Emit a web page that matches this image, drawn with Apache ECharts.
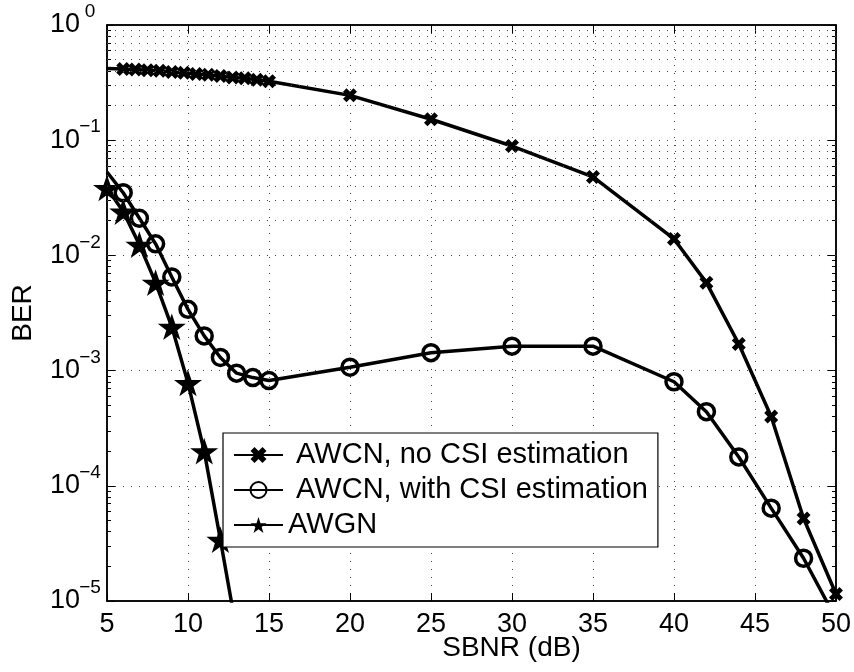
<!DOCTYPE html>
<html>
<head>
<meta charset="utf-8">
<title>BER vs SBNR</title>
<script src="https://cdn.jsdelivr.net/npm/echarts@6/dist/echarts.min.js"></script>
<style>
  html, body { margin: 0; padding: 0; background: #fff; }
  #box { width: 854px; height: 672px; }
</style>
</head>
<body>
<div id="box"></div>
<script>
  // data
  var seriesNames = [' AWCN, no CSI estimation', ' AWCN, with CSI estimation', 'AWGN'];

  var noCsiSnr = [5, 6, 6.75, 7.5, 8.25, 9, 9.75, 10.5, 11.25, 12, 12.75, 13.5, 14.25, 15, 20, 25, 30, 35, 40, 42, 44, 46, 48, 50];
  var noCsiBer = [0.42, 0.415, 0.41, 0.405, 0.40, 0.39, 0.385, 0.375, 0.37, 0.36, 0.35, 0.345, 0.335, 0.325, 0.245, 0.152, 0.089, 0.048, 0.0139, 0.0058, 0.0017, 0.0004, 5.2e-5, 1.15e-5];

  var csiSnr = [5, 6, 7, 8, 9, 10, 11, 12, 13, 14, 15, 20, 25, 30, 35, 40, 42, 44, 46, 48, 50];
  var csiBer = [0.053, 0.035, 0.021, 0.0126, 0.0065, 0.0034, 0.002, 0.0013, 0.00095, 0.00087, 0.00082, 0.00107, 0.00143, 0.00163, 0.00163, 0.0008, 0.00044, 0.000178, 6.4e-5, 2.35e-5, 7e-6];

  var awgnSnr = [5, 6, 7, 8, 9, 10, 11, 12, 13];
  var awgnBer = [0.0385, 0.024, 0.0124, 0.0058, 0.0024, 0.00078, 0.0002, 3.4e-5, 5.5e-6];

  var xTicks = [5, 10, 15, 20, 25, 30, 35, 40, 45, 50];
  var yDecades = [-5, -4, -3, -2, -1, 0];

  var font = 'Liberation Sans, Arial, Helvetica, sans-serif';
  var xPath = 'path://M0,2.5 L2.5,0 L5,2.5 L7.5,0 L10,2.5 L7.5,5 L10,7.5 L7.5,10 L5,7.5 L2.5,10 L0,7.5 L2.5,5 Z';
  var starPath = 'path://M50,0 L61.8,35.1 L97.6,35.1 L68.8,56.7 L79.4,90.5 L50,69.1 L20.6,90.5 L31.2,56.7 L2.4,35.1 L38.2,35.1 Z';

  function pairs(xs, ys, hideFirst) {
    return xs.map(function (x, i) {
      var item = { value: [x, ys[i]] };
      // the curve starts at the axis without a marker
      if (hideFirst && i === 0) item.symbol = 'none';
      return item;
    });
  }

  // dotted minor grid lines 2..9 x 10^k
  var minorLines = [];
  for (var k = 0; k < yDecades.length - 1; k++) {
    for (var m = 2; m <= 9; m++) {
      minorLines.push({ yAxis: m * Math.pow(10, yDecades[k]) });
    }
  }

  var dotted = { type: [1, 7], color: '#444', width: 1 };

  var myChart = echarts.init(document.getElementById('box'));

  var option = {
    animation: false,
    backgroundColor: '#fff',
    grid: {
      left: 107, right: 18, top: 25, bottom: 71,
      show: true, borderColor: '#000', borderWidth: 1.5, backgroundColor: 'transparent'
    },
    legend: {
      data: seriesNames,
      orient: 'vertical',
      left: 223, top: 433,
      itemWidth: 49, itemHeight: 20, itemGap: 5,
      padding: [7, 10, 7, 10],
      borderColor: '#000', borderWidth: 1.2,
      backgroundColor: '#fff',
      textStyle: { fontSize: 29, fontFamily: font, color: '#000', lineHeight: 30 }
    },
    xAxis: [{
      type: 'value',
      min: 5, max: 50, interval: 5,
      name: 'SBNR (dB)',
      nameLocation: 'middle',
      nameGap: 33,
      nameMoveOverlap: false,
      nameTextStyle: { fontSize: 28, fontFamily: font, color: '#000', padding: [0, 0, 0, 80] },
      axisLine: { show: true, lineStyle: { color: '#000', width: 1.5 } },
      axisTick: { show: true, inside: true, length: 8, lineStyle: { color: '#000', width: 1 } },
      axisLabel: {
        margin: 10, fontSize: 27, fontFamily: font, color: '#000',
        formatter: function (v) { return xTicks.indexOf(v) >= 0 ? String(v) : ''; }
      },
      splitLine: { show: true, lineStyle: dotted }
    }, {
      type: 'value',
      position: 'top',
      min: 5, max: 50, interval: 5,
      axisLine: { show: true, lineStyle: { color: '#000', width: 1.5 } },
      axisTick: { show: true, inside: true, length: 8, lineStyle: { color: '#000', width: 1 } },
      axisLabel: { show: false },
      splitLine: { show: false }
    }],
    yAxis: [{
      type: 'log',
      logBase: 10,
      min: 1e-5, max: 1,
      splitNumber: 5,
      name: 'BER',
      nameLocation: 'middle',
      nameRotate: 90,
      nameGap: 70,
      nameTextStyle: { fontSize: 28, fontFamily: font, color: '#000' },
      axisLine: { show: true, lineStyle: { color: '#000', width: 1.5 } },
      axisTick: { show: true, inside: true, length: 8, lineStyle: { color: '#000', width: 1 } },
      minorTick: { show: true, splitNumber: 9, length: 4, lineStyle: { color: '#000', width: 1 } },
      axisLabel: {
        margin: 7,
        fontFamily: font,
        color: '#000',
        formatter: function (v) {
          var e = Math.round(Math.log10(v));
          return '{b|10}{s|' + (e < 0 ? '\u2212' + (-e) : e) + '}';
        },
        rich: {
          b: { fontSize: 27, fontFamily: font, color: '#000' },
          s: { fontSize: 19, fontFamily: font, color: '#000', width: 20, align: 'left', padding: [0, 0, 26, 0] }
        }
      },
      splitLine: { show: true, lineStyle: dotted }
    }, {
      type: 'log',
      logBase: 10,
      position: 'right',
      min: 1e-5, max: 1,
      splitNumber: 5,
      axisLine: { show: true, lineStyle: { color: '#000', width: 1.5 } },
      axisTick: { show: true, inside: true, length: 8, lineStyle: { color: '#000', width: 1 } },
      minorTick: { show: true, splitNumber: 9, length: 4, lineStyle: { color: '#000', width: 1 } },
      axisLabel: { show: false },
      splitLine: { show: false }
    }],
    series: [{
      name: 'minor grid',
      type: 'line',
      z: 1,
      data: [],
      markLine: {
        silent: true,
        symbol: ['none', 'none'],
        label: { show: false },
        lineStyle: dotted,
        data: minorLines
      }
    }, {
      name: seriesNames[0],
      type: 'line',
      z: 3,
      data: pairs(noCsiSnr, noCsiBer, true),
      symbol: xPath,
      symbolSize: 14,
      itemStyle: { color: '#000' },
      lineStyle: { color: '#000', width: 3.5 }
    }, {
      name: seriesNames[1],
      type: 'line',
      z: 3,
      data: pairs(csiSnr, csiBer, true),
      symbol: 'circle',
      symbolSize: 16,
      itemStyle: { color: 'rgba(0,0,0,0)', borderColor: '#000', borderWidth: 3.5 },
      lineStyle: { color: '#000', width: 3.5 }
    }, {
      name: seriesNames[2],
      type: 'line',
      z: 3,
      data: pairs(awgnSnr, awgnBer, false),
      symbol: starPath,
      symbolKeepAspect: true,
      symbolSize: 28,
      itemStyle: { color: '#000' },
      lineStyle: { color: '#000', width: 3.5 }
    }]
  };

  myChart.setOption(option);
</script>
</body>
</html>
